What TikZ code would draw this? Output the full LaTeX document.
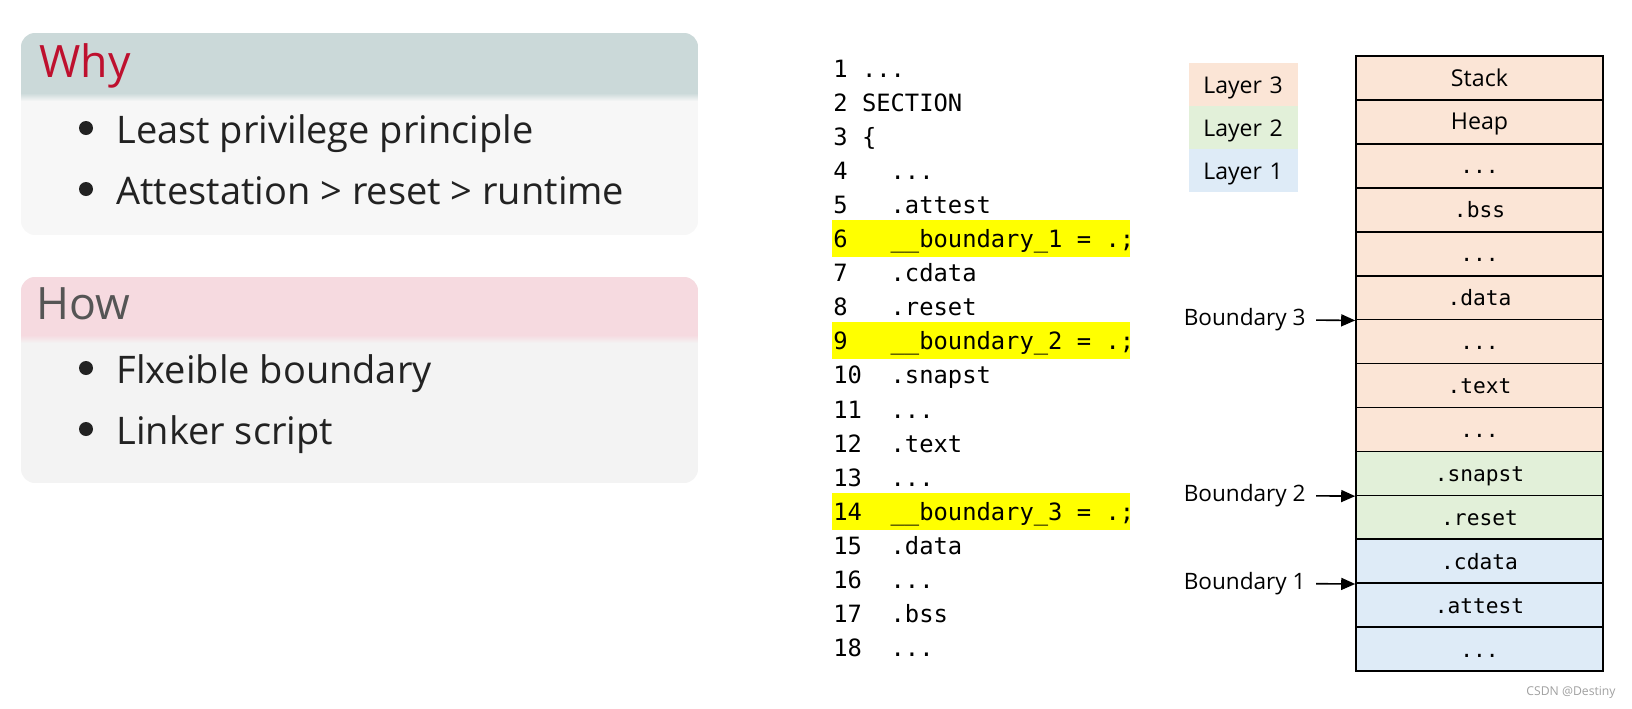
\documentclass[tikz,border=0pt]{standalone}
\usepackage{fontspec}
\setmainfont{Open Sans}
\setmonofont{DejaVu Sans Mono}
\usetikzlibrary{arrows.meta}

\definecolor{whyHead}{RGB}{203,217,217}
\definecolor{whyBody}{RGB}{247,247,247}
\definecolor{howHead}{RGB}{246,218,224}
\definecolor{howBody}{RGB}{243,243,243}
\definecolor{whyRed}{RGB}{190,16,46}
\definecolor{howGray}{RGB}{85,85,85}
\definecolor{itemGray}{RGB}{34,34,34}
\definecolor{hiYellow}{RGB}{255,255,0}
\definecolor{layThree}{RGB}{251,229,214}
\definecolor{layTwo}{RGB}{226,240,217}
\definecolor{layOne}{RGB}{222,235,247}
\definecolor{wmGray}{RGB}{160,160,160}

\newcommand{\codedots}{...}
\newcommand{\memSans}[1]{{\rmfamily\fontsize{11.6}{14}\selectfont #1}}

\begin{document}
\begin{tikzpicture}
[x=0.5pt,y=-0.5pt,
  headText/.style={anchor=base west,inner sep=0pt,font=\fontsize{22.3}{26}\selectfont},
  itemText/.style={anchor=base west,inner sep=0pt,text=itemGray,font=\fontsize{19}{22}\selectfont},
  itemDot/.style={shape=circle,fill=itemGray,inner sep=0pt,minimum size=7pt},
  codeText/.style={anchor=base west,inner sep=0pt,font=\ttfamily\fontsize{11.9}{14}\selectfont},
  memBox/.style={draw,line width=0.8pt,minimum width=123.5pt,minimum height=21.96pt,inner sep=0pt,
    text height=8pt,text depth=0pt,font=\ttfamily\fontsize{10.6}{13}\selectfont},
  legBox/.style={anchor=north west,minimum height=21.5pt,text width=40.5pt,inner xsep=7pt,
    align=left,text depth=0pt,font=\fontsize{11.5}{14}\selectfont},
  bndText/.style={anchor=east,inner sep=2pt,font=\fontsize{11.3}{14}\selectfont},
  bndArrow/.style={-{Triangle[length=7pt,width=6pt]},line width=0.8pt,shorten <=3pt}]
\useasboundingbox (0,0) rectangle (1632,708);

%% why / how panels
\begin{scope}
  \clip[rounded corners=7pt] (21,33) rectangle (698,235);
  \fill[whyBody] (21,33) rectangle (698,235);
  \fill[whyHead] (21,33) rectangle (698,93);
  \shade[top color=whyHead,bottom color=whyBody] (21,93) rectangle (698,101);
\end{scope}
\begin{scope}
  \clip[rounded corners=7pt] (21,277) rectangle (698,483);
  \fill[howBody] (21,277) rectangle (698,483);
  \fill[howHead] (21,277) rectangle (698,335);
  \shade[top color=howHead,bottom color=howBody] (21,335) rectangle (698,343);
\end{scope}
\node[headText,text=whyRed] (why) at (39,77) {Why};
\node[headText,text=howGray] (how) at (36,319) {How};
\foreach \k/\y/\txt in {
  1/143/Least privilege principle,
  2/204/Attestation > reset > runtime,
  3/383/Flxeible boundary,
  4/444/Linker script}
{
  \node[itemDot] (dot\k) at (86,{\y-15}) {};
  \node[itemText] (item\k) at (116,\y) {\txt};
}

%% linker script listing
\foreach \n in {6,9,14}
  \fill[hiYellow] (832,{77+34.1*(\n-1)-27.5}) rectangle (1130,{77+34.1*(\n-1)+9.5});
\foreach \n/\col/\txt in {
  1/2/\codedots, 2/2/SECTION, 3/2/\{, 4/4/\codedots, 5/4/.attest,
  6/4/{\_\_boundary\_1 = .;}, 7/4/.cdata, 8/4/.reset,
  9/4/{\_\_boundary\_2 = .;}, 10/4/.snapst, 11/4/\codedots, 12/4/.text,
  13/4/\codedots, 14/4/{\_\_boundary\_3 = .;}, 15/4/.data, 16/4/\codedots,
  17/4/.bss, 18/4/\codedots}
{
  \node[codeText] (num\n) at (833,{77+34.1*(\n-1)}) {\n};
  \node[codeText] (code\n) at ({833+14.3*\col},{77+34.1*(\n-1)}) {\txt};
}

%% legend
\foreach \k/\lay in {3/layThree,2/layTwo,1/layOne}
  \node[legBox,fill=\lay] (lay\k) at (1189,{63+43*(3-\k)}) {Layer \k};

%% memory layout
\foreach \i/\txt/\lay in {
  0/\memSans{Stack}/layThree, 1/\memSans{Heap}/layThree, 2/\codedots/layThree,
  3/.bss/layThree, 4/\codedots/layThree, 5/.data/layThree, 6/\codedots/layThree,
  7/.text/layThree, 8/\codedots/layThree, 9/.snapst/layTwo, 10/.reset/layTwo,
  11/.cdata/layOne, 12/.attest/layOne, 13/\codedots/layOne}
{
  \node[memBox,fill=\lay] (mem\i) at (1479.5,{78+43.93*\i}) {\txt};
}

%% boundaries
\foreach \b/\row in {3/5,2/9,1/11}
{
  \node[bndText] (bnd\b) at (1310,{56+43.93*(\row+1)}) {Boundary \b};
  \draw[bndArrow] (bnd\b) -- (mem\row.south west);
}

\node[anchor=base east,inner sep=0pt,text=wmGray,font=\fontsize{6.1}{8}\selectfont] (mark) at (1616,695) {CSDN @Destiny};
\end{tikzpicture}
\end{document}
